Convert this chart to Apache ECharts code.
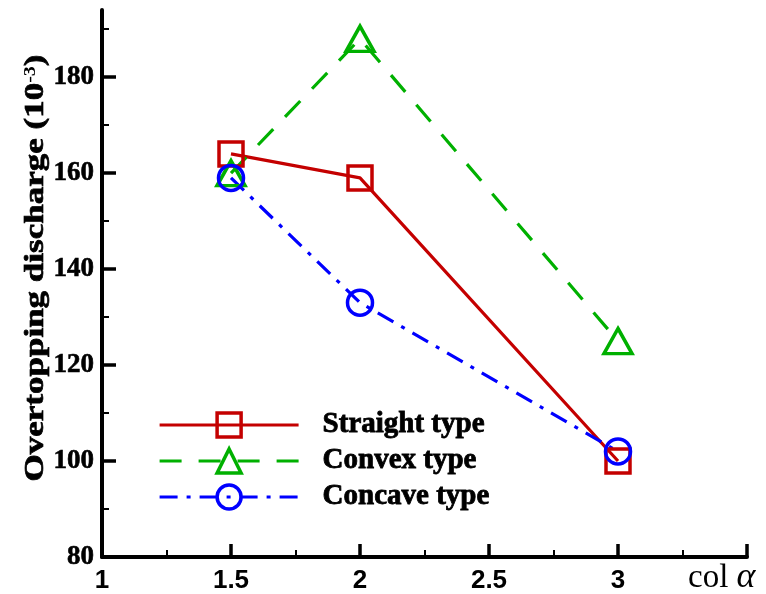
<!DOCTYPE html>
<html>
<head>
<meta charset="utf-8">
<title>Overtopping discharge vs cot α</title>
<script src="https://cdn.jsdelivr.net/npm/echarts@6/dist/echarts.min.js"></script>
<style>
  html, body { margin: 0; padding: 0; background: #fff; }
  #chart { width: 766px; height: 594px; }
</style>
</head>
<body>
<div id="chart"></div>
<script>
// Slope parameter (cot α) at which each profile was tested
const cotAlpha = [1.5, 2, 3];

// Overtopping discharge (×10^-3) for each seawall profile
const straightType = [164, 159, 100];
const convexType = [160, 188, 125];
const concaveType = [159, 133, 102];

const seriesNames = ['Straight type', 'Convex type', 'Concave type'];

// Axis tick values
const xMajorTicks = [1, 1.5, 2, 2.5, 3, 3.5];
const xTickLabels = [1, 1.5, 2, 2.5, 3];
const yMajorTicks = [80, 100, 120, 140, 160, 180];
const yMinorTicks = [90, 110, 130, 150, 170, 190];

const X_MIN = 1, X_MAX = 3.5;
const Y_MIN = 80, Y_MAX = 194;

const RED = '#c40000';
const GREEN = '#00b000';
const BLUE = '#0000ff';

const serif = '"Liberation Serif", "Times New Roman", serif';
const sans = '"Liberation Sans", Arial, sans-serif';

function pairs(values) {
  return cotAlpha.map((x, i) => [x, values[i]]);
}

function lineSeries(name, values, color, symbol, size, dash) {
  return {
    name: name,
    type: 'line',
    xAxisIndex: 0,
    yAxisIndex: 0,
    data: pairs(values),
    symbol: symbol,
    symbolSize: size,
    showAllSymbol: true,
    silent: true,
    animation: false,
    lineStyle: { color: color, width: 3.2, type: dash },
    itemStyle: { color: 'rgba(255,255,255,0)', borderColor: color, borderWidth: 3.5 }
  };
}

const chart = echarts.init(document.getElementById('chart'), null, { renderer: 'canvas' });

chart.setOption({
  backgroundColor: '#ffffff',
  animation: false,
  grid: { left: 102, right: 19, top: 10, bottom: 35, containLabel: false },
  xAxis: [{
    type: 'value',
    min: X_MIN,
    max: X_MAX,
    interval: 0.5,
    splitLine: { show: false },
    axisLine: { show: true, onZero: false, lineStyle: { color: '#000', width: 4 } },
    axisTick: {
      show: true, inside: true, length: 13,
      customValues: xMajorTicks,
      lineStyle: { color: '#000', width: 3.5 }
    },
    minorTick: { show: true, splitNumber: 2, length: 7, lineStyle: { color: '#000', width: 2 } },
    axisLabel: {
      customValues: xTickLabels,
      margin: 11,
      color: '#000',
      fontFamily: sans,
      fontWeight: 'bold',
      fontSize: 26
    }
  }],
  yAxis: [{
    type: 'value',
    min: Y_MIN,
    max: Y_MAX,
    interval: 20,
    splitLine: { show: false },
    axisLine: { show: true, onZero: false, lineStyle: { color: '#000', width: 4 } },
    axisTick: {
      show: true, inside: true, length: 14,
      customValues: yMajorTicks,
      lineStyle: { color: '#000', width: 3.5 }
    },
    axisLabel: {
      customValues: yMajorTicks,
      margin: 8,
      color: '#000',
      fontFamily: serif,
      fontWeight: 'bold',
      fontSize: 27,
      textBorderColor: '#000',
      textBorderWidth: 0.6
    }
  }, {
    // minor ticks only
    type: 'value',
    position: 'left',
    min: Y_MIN,
    max: Y_MAX,
    interval: 10,
    splitLine: { show: false },
    axisLine: { show: false, onZero: false },
    axisTick: {
      show: true, inside: true, length: 7,
      customValues: yMinorTicks,
      lineStyle: { color: '#000', width: 2 }
    },
    axisLabel: { show: false }
  }],
  legend: {
    orient: 'vertical',
    left: 153,
    top: 405,
    itemWidth: 139,
    itemHeight: 30,
    itemGap: 6,
    selectedMode: false,
    data: seriesNames,
    lineStyle: { width: 3.2 },
    itemStyle: { borderWidth: 3.5 },
    textStyle: {
      color: '#000',
      fontFamily: serif,
      fontWeight: 'bold',
      fontSize: 29,
      lineHeight: 30,
      padding: [0, 0, 0, 19],
      textBorderColor: '#000',
      textBorderWidth: 0.8
    }
  },
  graphic: [{
    type: 'text',
    x: 36,
    y: 268,
    rotation: Math.PI / 2,
    scaleX: 1.25,
    silent: true,
    style: {
      text: '{a|Overtopping discharge (10}{s|-3}{a|)}',
      align: 'center',
      verticalAlign: 'middle',
      fill: '#000',
      rich: {
        a: { fontFamily: serif, fontWeight: 'bold', fontSize: 28, fill: '#000', stroke: '#000', lineWidth: 0.7 },
        s: { fontFamily: serif, fontWeight: 'bold', fontSize: 16, fill: '#000', padding: [0, 0, 10, 0] }
      }
    }
  }, {
    type: 'text',
    x: 688,
    y: 578,
    silent: true,
    style: {
      text: '{a|col }{b|α}',
      align: 'left',
      verticalAlign: 'middle',
      fill: '#000',
      rich: {
        a: { fontFamily: serif, fontSize: 33, fill: '#000' },
        b: { fontFamily: serif, fontStyle: 'italic', fontSize: 36, fill: '#000' }
      }
    }
  }],
  series: [
    lineSeries(seriesNames[0], straightType, RED, 'rect', 24, 'solid'),
    lineSeries(seriesNames[1], convexType, GREEN, 'triangle', [28, 25], [22, 17]),
    lineSeries(seriesNames[2], concaveType, BLUE, 'circle', 25, [18, 9, 4, 9])
  ]
});
</script>
</body>
</html>
